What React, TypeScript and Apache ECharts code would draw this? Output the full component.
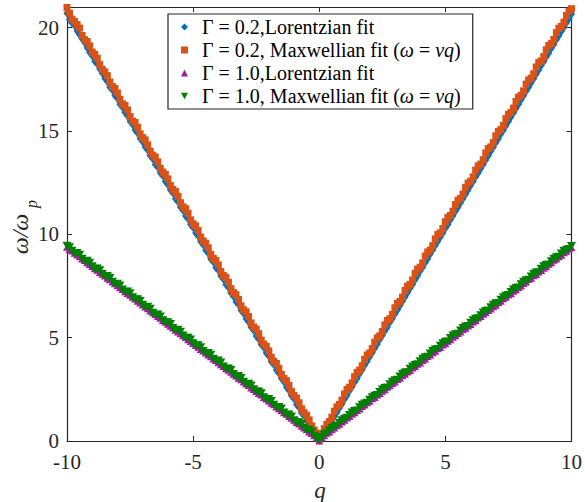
import { useEffect, useRef } from "react";
import * as echarts from "echarts";

const qValues = [
  -10, -9.9, -9.8, -9.7, -9.6, -9.5, -9.4, -9.3, -9.2, -9.1,
  -9, -8.9, -8.8, -8.7, -8.6, -8.5, -8.4, -8.3, -8.2, -8.1,
  -8, -7.9, -7.8, -7.7, -7.6, -7.5, -7.4, -7.3, -7.2, -7.1,
  -7, -6.9, -6.8, -6.7, -6.6, -6.5, -6.4, -6.3, -6.2, -6.1,
  -6, -5.9, -5.8, -5.7, -5.6, -5.5, -5.4, -5.3, -5.2, -5.1,
  -5, -4.9, -4.8, -4.7, -4.6, -4.5, -4.4, -4.3, -4.2, -4.1,
  -4, -3.9, -3.8, -3.7, -3.6, -3.5, -3.4, -3.3, -3.2, -3.1,
  -3, -2.9, -2.8, -2.7, -2.6, -2.5, -2.4, -2.3, -2.2, -2.1,
  -2, -1.9, -1.8, -1.7, -1.6, -1.5, -1.4, -1.3, -1.2, -1.1,
  -1, -0.9, -0.8, -0.7, -0.6, -0.5, -0.4, -0.3, -0.2, -0.1,
  0,
  0.1, 0.2, 0.3, 0.4, 0.5, 0.6, 0.7, 0.8, 0.9, 1,
  1.1, 1.2, 1.3, 1.4, 1.5, 1.6, 1.7, 1.8, 1.9, 2,
  2.1, 2.2, 2.3, 2.4, 2.5, 2.6, 2.7, 2.8, 2.9, 3,
  3.1, 3.2, 3.3, 3.4, 3.5, 3.6, 3.7, 3.8, 3.9, 4,
  4.1, 4.2, 4.3, 4.4, 4.5, 4.6, 4.7, 4.8, 4.9, 5,
  5.1, 5.2, 5.3, 5.4, 5.5, 5.6, 5.7, 5.8, 5.9, 6,
  6.1, 6.2, 6.3, 6.4, 6.5, 6.6, 6.7, 6.8, 6.9, 7,
  7.1, 7.2, 7.3, 7.4, 7.5, 7.6, 7.7, 7.8, 7.9, 8,
  8.1, 8.2, 8.3, 8.4, 8.5, 8.6, 8.7, 8.8, 8.9, 9,
  9.1, 9.2, 9.3, 9.4, 9.5, 9.6, 9.7, 9.8, 9.9, 10,
];

// Γ = 0.2, Lorentzian fit
const lorentz02 = [
  20.70, 20.40, 20.22, 20.10, 19.84, 19.66, 19.45, 19.28, 19.03, 18.80,
  18.64, 18.38, 18.24, 18.00, 17.80, 17.55, 17.40, 17.12, 16.98, 16.72,
  16.58, 16.30, 16.15, 15.90, 15.74, 15.47, 15.31, 15.05, 14.90, 14.64,
  14.48, 14.22, 14.08, 13.80, 13.66, 13.38, 13.24, 12.97, 12.83, 12.56,
  12.40, 12.14, 12.00, 11.72, 11.58, 11.31, 11.16, 10.89, 10.75, 10.48,
  10.33, 10.06, 9.92, 9.65, 9.50, 9.23, 9.09, 8.81, 8.67, 8.40,
  8.26, 7.98, 7.84, 7.57, 7.43, 7.16, 7.01, 6.74, 6.60, 6.33,
  6.18, 5.91, 5.77, 5.50, 5.36, 5.08, 4.94, 4.67, 4.53, 4.26,
  4.11, 3.84, 3.70, 3.43, 3.28, 3.02, 2.87, 2.60, 2.46, 2.19,
  2.05, 1.77, 1.63, 1.36, 1.22, 0.95, 0.80, 0.54, 0.40, 0.20,
  0.05,
  0.18, 0.38, 0.56, 0.78, 0.97, 1.20, 1.38, 1.60, 1.79, 2.02,
  2.20, 2.43, 2.62, 2.84, 3.03, 3.25, 3.45, 3.66, 3.86, 4.08,
  4.27, 4.49, 4.68, 4.91, 5.10, 5.32, 5.51, 5.74, 5.93, 6.15,
  6.34, 6.56, 6.76, 6.97, 7.17, 7.39, 7.58, 7.80, 7.99, 8.22,
  8.41, 8.63, 8.82, 9.05, 9.24, 9.46, 9.66, 9.87, 10.07, 10.29,
  10.48, 10.70, 10.90, 11.12, 11.31, 11.53, 11.73, 11.94, 12.14, 12.36,
  12.56, 12.77, 12.97, 13.19, 13.38, 13.60, 13.80, 14.02, 14.21, 14.43,
  14.63, 14.85, 15.04, 15.26, 15.46, 15.68, 15.87, 16.09, 16.29, 16.51,
  16.70, 16.92, 17.12, 17.34, 17.53, 17.75, 17.95, 18.17, 18.36, 18.58,
  18.78, 19.00, 19.19, 19.41, 19.61, 19.83, 20.02, 20.24, 20.44, 20.66,
];

// Γ = 0.2, Maxwellian fit
const maxwell02 = [
  20.98, 20.70, 20.41, 20.30, 20.15, 19.98, 19.62, 19.42, 19.33, 19.12,
  18.82, 18.71, 18.52, 18.21, 17.98, 17.86, 17.68, 17.37, 17.15, 17.06,
  16.84, 16.53, 16.31, 16.24, 16.02, 15.70, 15.48, 15.41, 15.18, 14.86,
  14.68, 14.57, 14.33, 14.02, 13.83, 13.74, 13.51, 13.19, 13.01, 12.90,
  12.68, 12.36, 12.17, 12.07, 11.84, 11.53, 11.33, 11.24, 11.02, 10.70,
  10.51, 10.41, 10.18, 9.87, 9.68, 9.57, 9.35, 9.03, 8.84, 8.74,
  8.52, 8.20, 8.01, 7.91, 7.68, 7.37, 7.18, 7.08, 6.85, 6.54,
  6.35, 6.25, 6.02, 5.71, 5.52, 5.42, 5.19, 4.88, 4.69, 4.58,
  4.36, 4.05, 3.86, 3.75, 3.52, 3.22, 3.03, 2.92, 2.69, 2.39,
  2.20, 2.08, 1.85, 1.56, 1.37, 1.25, 1.02, 0.73, 0.53, 0.38,
  0.08,
  0.34, 0.60, 0.81, 0.94, 1.15, 1.44, 1.65, 1.77, 1.98, 2.28,
  2.49, 2.60, 2.81, 3.11, 3.32, 3.43, 3.64, 3.95, 4.16, 4.26,
  4.47, 4.78, 4.99, 5.09, 5.30, 5.62, 5.83, 5.92, 6.13, 6.45,
  6.66, 6.75, 6.96, 7.28, 7.49, 7.58, 7.79, 8.11, 8.32, 8.41,
  8.62, 8.95, 9.15, 9.24, 9.45, 9.78, 9.99, 10.07, 10.28, 10.61,
  10.82, 10.91, 11.12, 11.44, 11.65, 11.74, 11.95, 12.27, 12.48, 12.57,
  12.78, 13.11, 13.31, 13.40, 13.61, 13.94, 14.15, 14.23, 14.44, 14.77,
  14.98, 15.07, 15.28, 15.60, 15.81, 15.90, 16.11, 16.43, 16.64, 16.73,
  16.94, 17.27, 17.47, 17.56, 17.77, 18.10, 18.31, 18.39, 18.60, 18.93,
  19.14, 19.23, 19.43, 19.76, 19.97, 20.06, 20.27, 20.59, 20.80, 20.92,
];

// Γ = 1.0, Lorentzian fit
const lorentz10 = [
  9.37, 9.27, 9.19, 9.08, 9.00, 8.91, 8.81, 8.73, 8.62, 8.54,
  8.44, 8.34, 8.26, 8.15, 8.07, 7.98, 7.88, 7.80, 7.69, 7.61,
  7.51, 7.41, 7.33, 7.22, 7.14, 7.05, 6.95, 6.87, 6.76, 6.68,
  6.58, 6.48, 6.40, 6.29, 6.21, 6.12, 6.02, 5.94, 5.83, 5.75,
  5.65, 5.55, 5.47, 5.36, 5.28, 5.19, 5.09, 5.01, 4.90, 4.82,
  4.72, 4.62, 4.54, 4.43, 4.35, 4.26, 4.16, 4.08, 3.97, 3.89,
  3.79, 3.69, 3.61, 3.50, 3.42, 3.33, 3.23, 3.15, 3.04, 2.96,
  2.86, 2.76, 2.68, 2.57, 2.49, 2.40, 2.30, 2.22, 2.11, 2.03,
  1.93, 1.83, 1.75, 1.64, 1.56, 1.47, 1.37, 1.29, 1.18, 1.10,
  1.00, 0.90, 0.82, 0.71, 0.63, 0.54, 0.44, 0.36, 0.25, 0.15,
  0.00,
  0.16, 0.26, 0.37, 0.44, 0.55, 0.63, 0.74, 0.81, 0.92, 1.00,
  1.11, 1.18, 1.30, 1.37, 1.48, 1.55, 1.67, 1.74, 1.85, 1.92,
  2.04, 2.11, 2.23, 2.30, 2.41, 2.48, 2.60, 2.67, 2.78, 2.85,
  2.97, 3.04, 3.16, 3.23, 3.34, 3.41, 3.53, 3.60, 3.71, 3.78,
  3.90, 3.97, 4.09, 4.16, 4.27, 4.34, 4.46, 4.53, 4.64, 4.71,
  4.83, 4.90, 5.02, 5.09, 5.20, 5.27, 5.39, 5.46, 5.57, 5.64,
  5.76, 5.83, 5.95, 6.02, 6.13, 6.20, 6.32, 6.39, 6.50, 6.57,
  6.69, 6.76, 6.88, 6.95, 7.06, 7.13, 7.25, 7.32, 7.43, 7.50,
  7.62, 7.69, 7.81, 7.88, 7.99, 8.06, 8.18, 8.25, 8.36, 8.43,
  8.55, 8.62, 8.74, 8.81, 8.92, 8.99, 9.11, 9.18, 9.29, 9.36,
];

// Γ = 1.0, Maxwellian fit
const maxwell10 = [
  9.45, 9.38, 9.20, 9.08, 9.10, 9.01, 8.82, 8.71, 8.72, 8.63,
  8.45, 8.34, 8.35, 8.26, 8.08, 7.97, 7.98, 7.89, 7.70, 7.60,
  7.61, 7.52, 7.33, 7.22, 7.23, 7.15, 6.96, 6.85, 6.86, 6.77,
  6.59, 6.48, 6.49, 6.40, 6.21, 6.11, 6.12, 6.03, 5.84, 5.74,
  5.75, 5.66, 5.47, 5.36, 5.38, 5.29, 5.10, 4.99, 5.00, 4.91,
  4.73, 4.62, 4.63, 4.54, 4.35, 4.25, 4.26, 4.17, 3.98, 3.88,
  3.89, 3.80, 3.61, 3.50, 3.51, 3.43, 3.24, 3.13, 3.14, 3.05,
  2.87, 2.76, 2.77, 2.68, 2.50, 2.39, 2.40, 2.31, 2.12, 2.02,
  2.03, 1.94, 1.75, 1.64, 1.65, 1.57, 1.38, 1.27, 1.28, 1.19,
  1.01, 0.90, 0.91, 0.82, 0.63, 0.53, 0.54, 0.45, 0.26, 0.16,
  0.03,
  0.19, 0.33, 0.38, 0.51, 0.63, 0.70, 0.74, 0.88, 1.01, 1.08,
  1.12, 1.26, 1.38, 1.45, 1.48, 1.63, 1.75, 1.82, 1.85, 2.00,
  2.12, 2.19, 2.22, 2.37, 2.49, 2.56, 2.59, 2.74, 2.87, 2.94,
  2.96, 3.12, 3.24, 3.31, 3.33, 3.49, 3.61, 3.68, 3.71, 3.86,
  3.98, 4.05, 4.08, 4.23, 4.36, 4.43, 4.45, 4.61, 4.73, 4.80,
  4.82, 4.98, 5.10, 5.17, 5.19, 5.35, 5.47, 5.54, 5.57, 5.72,
  5.84, 5.91, 5.94, 6.09, 6.22, 6.29, 6.31, 6.47, 6.59, 6.66,
  6.68, 6.84, 6.96, 7.03, 7.06, 7.21, 7.33, 7.40, 7.43, 7.58,
  7.71, 7.78, 7.80, 7.96, 8.08, 8.15, 8.17, 8.33, 8.45, 8.52,
  8.54, 8.70, 8.82, 8.89, 8.92, 9.07, 9.19, 9.26, 9.29, 9.44,
];

const seriesNames = [
  "Γ = 0.2,Lorentzian fit",
  "Γ = 0.2, Maxwellian fit (ω = vq)",
  "Γ = 1.0,Lorentzian fit",
  "Γ = 1.0, Maxwellian fit (ω = vq)",
];
const seriesValues = [lorentz02, maxwell02, lorentz10, maxwell10];
const colors = ["#0072BD", "#D95319", "#A020A0", "#008000"];
const symbols = ["diamond", "rect", "triangle", "path://M0,0L10,0L5,9Z"];
const symbolSizes: number[][] = [[7, 9], [7, 7], [8, 7], [9, 8]];

const X_MIN = -10;
const X_MAX = 10;
const X_STEP = 5;
const Y_MIN = 0;
const Y_MAX = 21;
const Y_STEP = 5;

const FONT = '"Liberation Serif", "DejaVu Serif", serif';
const AXIS_COLOR = "#262626";

export default function App() {
  const ref = useRef<HTMLDivElement>(null);

  useEffect(() => {
    document.body.style.margin = "0";
    if (!ref.current) return;
    const chart = echarts.init(ref.current, undefined, { renderer: "svg" });

    const axisLine = { show: true, onZero: false, lineStyle: { color: AXIS_COLOR, width: 1.2 } };
    const axisTick = { show: true, inside: true, length: 5, lineStyle: { color: AXIS_COLOR, width: 1 } };
    const axisLabel = { color: AXIS_COLOR, fontSize: 21, fontFamily: FONT };

    const mkX = (position: string, showLabel: boolean) => ({
      type: "value",
      position,
      min: X_MIN,
      max: X_MAX,
      interval: X_STEP,
      axisLine,
      axisTick,
      axisLabel: { ...axisLabel, show: showLabel, margin: 10 },
      splitLine: { show: false },
    });
    const mkY = (position: string, showLabel: boolean) => ({
      type: "value",
      position,
      min: Y_MIN,
      max: Y_MAX,
      interval: Y_STEP,
      axisLine,
      axisTick,
      axisLabel: {
        ...axisLabel,
        show: showLabel,
        margin: 8,
        formatter: (v: number) => (v % Y_STEP === 0 ? String(v) : ""),
      },
      splitLine: { show: false },
    });

    chart.setOption({
      animation: false,
      backgroundColor: "#ffffff",
      grid: { left: 67, right: 12, top: 7, bottom: 61, containLabel: false },
      xAxis: [mkX("bottom", true), mkX("top", false)],
      yAxis: [mkY("left", true), mkY("right", false)],
      legend: {
        orient: "vertical",
        left: 168,
        top: 14,
        padding: [2, 12, 2, 13],
        itemGap: 1,
        itemWidth: 7,
        itemHeight: 7,
        backgroundColor: "#ffffff",
        borderColor: AXIS_COLOR,
        borderWidth: 1.2,
        data: seriesNames.map((name, i) => ({ name, icon: symbols[i] })),
        formatter: (name: string) => "{g|}" + name.replace("(ω = vq)", "({i|ω} = {i|vq})"),
        textStyle: {
          fontFamily: FONT,
          fontSize: 20,
          color: "#000000",
          lineHeight: 22,
          rich: {
            g: { width: 9, lineHeight: 22 },
            i: { fontFamily: FONT, fontSize: 20, fontStyle: "italic", color: "#000000", lineHeight: 22 },
          },
        },
      },
      series: seriesNames.map((name, i) => ({
        name,
        type: "scatter",
        xAxisIndex: 0,
        yAxisIndex: 0,
        symbol: symbols[i],
        symbolSize: symbolSizes[i],
        itemStyle: { color: colors[i], opacity: 1 },
        z: 2 + i,
        data: qValues.map((q, k) => [q, seriesValues[i][k]]),
      })),
      graphic: [
        {
          type: "text",
          x: 20,
          y: 234,
          rotation: Math.PI / 2,
          style: {
            text: "ω/ω",
            fontFamily: FONT,
            fontStyle: "italic",
            fontSize: 24,
            fill: AXIS_COLOR,
            align: "center",
            verticalAlign: "middle",
          },
        },
        {
          type: "text",
          x: 31,
          y: 204,
          rotation: Math.PI / 2,
          style: {
            text: "p",
            fontFamily: FONT,
            fontStyle: "italic",
            fontSize: 16,
            fill: AXIS_COLOR,
            align: "center",
            verticalAlign: "middle",
          },
        },
        {
          type: "text",
          x: 320,
          y: 490,
          style: {
            text: "q",
            fontFamily: FONT,
            fontStyle: "italic",
            fontSize: 23,
            fill: AXIS_COLOR,
            align: "center",
            verticalAlign: "middle",
          },
        },
      ],
    });

    return () => chart.dispose();
  }, []);

  return <div ref={ref} style={{ width: 585, height: 502 }} />;
}
